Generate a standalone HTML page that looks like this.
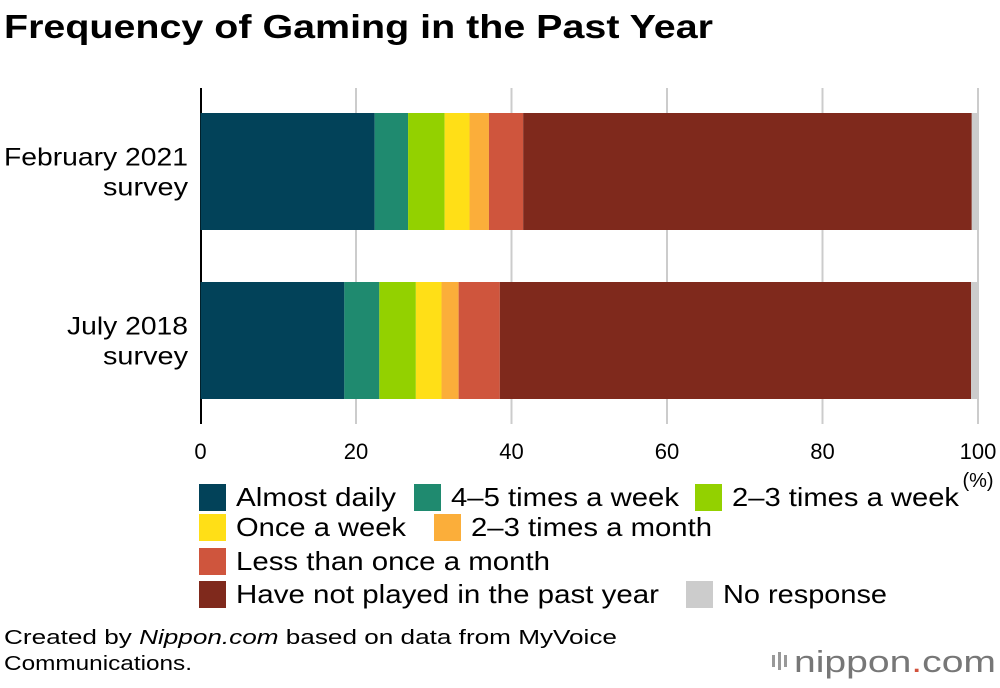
<!DOCTYPE html><html><head><meta charset="utf-8"><style>
body{margin:0;background:#fff;font-family:"Liberation Sans",Arial,sans-serif;}
svg{display:block}
</style></head><body>
<svg width="1000" height="688" id="c">
<text x="4" y="38" font-size="33" font-weight="bold" fill="#000" textLength="709" lengthAdjust="spacingAndGlyphs">Frequency of Gaming in the Past Year</text>
<g id="grid"></g><g id="bars"></g><g id="ylab"></g><g id="xt"></g>
<text x="978" y="487" font-size="20" text-anchor="middle">(%)</text>
<g id="legend"></g>
<text x="4" y="644" font-size="20" textLength="613" lengthAdjust="spacingAndGlyphs">Created by <tspan font-style="italic">Nippon.com</tspan> based on data from MyVoice</text>
<text x="4" y="670" font-size="20" textLength="188" lengthAdjust="spacingAndGlyphs">Communications.</text>
<g>
<rect x="772" y="655" width="3" height="12" fill="#999"/><rect x="778" y="652" width="3" height="18" fill="#999"/><rect x="784" y="655" width="3" height="12" fill="#999"/>
<text x="794" y="672" font-size="31" fill="#777" textLength="202" lengthAdjust="spacingAndGlyphs">nippon<tspan fill="#d2523c">.</tspan>com</text></g>
</svg>
<script>
const categories=["February 2021|survey","July 2018|survey"];
const seriesNames=["Almost daily","4–5 times a week","2–3 times a week","Once a week","2–3 times a month","Less than once a month","Have not played in the past year","No response"];
const colors=["#024259","#1f8a6f","#93d100","#ffdf17","#fbae3a","#cf553d","#7f291c","#cccccc"];
const feb2021=[22.4,4.3,4.7,3.2,2.5,4.4,57.7,0.8];
const jul2018=[18.5,4.5,4.7,3.3,2.2,5.3,60.6,0.9];
const values=[feb2021,jul2018];
const xTicks=[0,20,40,60,80,100];
const NS="http://www.w3.org/2000/svg";
const x=v=>200.5+v*7.775;
const barTop=[113,282],barH=117;
function mk(t,a,p){const e=document.createElementNS(NS,t);for(const k in a)e.setAttribute(k,a[k]);p.appendChild(e);return e;}
const grid=document.getElementById('grid');
xTicks.forEach(t=>{if(t>0){const l=mk('line',{x1:x(t),x2:x(t),y1:88,y2:424,stroke:'#ccc','stroke-width':2},grid);

}
const tx=mk('text',{x:x(t),y:459,'font-size':22,'text-anchor':'middle'},document.getElementById('xt'));tx.textContent=t;

});
const ax=mk('line',{x1:201,x2:201,y1:88,y2:424,stroke:'#000','stroke-width':2},grid);


const bars=document.getElementById('bars');
const labW={"February 2021":184,"survey":85,"July 2018":121};
values.forEach((row,i)=>{let c=0;row.forEach((v,j)=>{const r=mk('rect',{x:x(c),y:barTop[i],width:x(c+v)-x(c),height:barH,fill:colors[j]},bars);

c+=v;});
const parts=categories[i].split('|');const cy=barTop[i]+barH/2;
parts.forEach((p,k)=>{const t=mk('text',{x:188,y:cy-6+k*30,'font-size':25,'text-anchor':'end',textLength:labW[p],lengthAdjust:'spacingAndGlyphs'},document.getElementById('ylab'));t.textContent=p;

});});
const lg=document.getElementById('legend');
const pos=[[199,497],[414,497],[695,497],[199,527],[434,527],[199,561],[199,594],[686,594]];
const lw=[160,228,227,170,241,314,423,164];
seriesNames.forEach((n,i)=>{const g=mk('g',{},lg);


mk('rect',{x:pos[i][0],y:pos[i][1]-13,width:27,height:27,fill:colors[i]},g);
const t=mk('text',{x:pos[i][0]+37,y:pos[i][1]+9,'font-size':26,textLength:lw[i],lengthAdjust:'spacingAndGlyphs'},g);t.textContent=n;});
</script>
</body></html>
